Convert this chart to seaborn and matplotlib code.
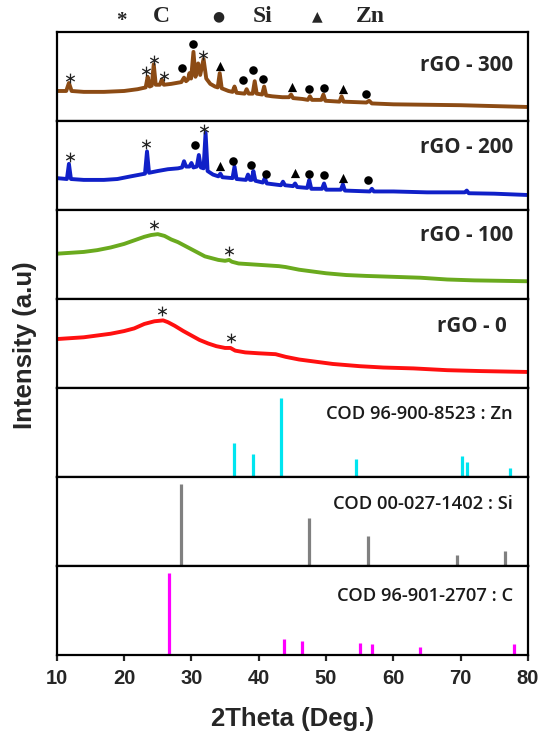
import numpy as np
import pandas as pd
import matplotlib
matplotlib.use("Agg")
import matplotlib.pyplot as plt
import seaborn as sns

# ---------------- data ----------------
# rGO - 300 (brown)
x300 = [10.0, 11.4, 11.8, 12.2, 14.0, 17.0, 20.0, 22.0, 23.2, 23.5, 23.8, 24.1, 24.4, 24.7,
        25.3, 25.6, 25.9, 27.0, 28.5, 28.9, 29.2, 29.5, 29.7, 29.95, 30.3, 30.6, 31.0, 31.3,
        31.8, 32.2, 32.8, 33.5, 33.9, 34.2, 34.5, 35.5, 36.1, 36.4, 36.7, 37.9, 38.2, 38.5,
        39.1, 39.4, 39.7, 40.5, 40.8, 41.1, 42.0, 43.5, 44.5, 44.8, 45.1, 46.5, 47.3, 47.6,
        47.9, 49.3, 49.6, 49.9, 52.0, 52.3, 52.6, 56.0, 56.4, 56.8, 60.0, 65.0, 70.0, 75.0, 80.0]
y300 = [0.34, 0.34, 0.43, 0.34, 0.33, 0.33, 0.34, 0.36, 0.38, 0.50, 0.39, 0.40, 0.64, 0.41,
        0.41, 0.47, 0.41, 0.42, 0.44, 0.49, 0.45, 0.47, 0.54, 0.48, 0.78, 0.50, 0.65, 0.52,
        0.70, 0.48, 0.42, 0.39, 0.38, 0.54, 0.37, 0.34, 0.33, 0.39, 0.32, 0.31, 0.36, 0.31,
        0.31, 0.45, 0.31, 0.30, 0.39, 0.29, 0.28, 0.27, 0.27, 0.30, 0.26, 0.25, 0.24, 0.28,
        0.24, 0.24, 0.30, 0.23, 0.22, 0.28, 0.22, 0.21, 0.23, 0.20, 0.19, 0.185, 0.18, 0.17, 0.16]

# rGO - 200 (blue)
x200 = [10.0, 11.5, 11.8, 12.1, 14.0, 17.0, 19.0, 21.0, 23.1, 23.4, 23.7, 25.0, 26.5, 28.0,
        28.6, 28.9, 29.2, 29.7, 30.0, 30.3, 30.8, 31.1, 31.4, 31.8, 32.1, 32.4, 33.2, 34.0,
        34.3, 34.6, 36.1, 36.4, 36.7, 38.1, 38.4, 38.7, 38.95, 39.2, 39.5, 40.6, 40.9, 41.2,
        43.3, 43.6, 43.9, 45.1, 45.4, 45.7, 47.2, 47.5, 47.8, 49.4, 49.7, 50.0, 52.2, 52.5,
        52.8, 56.5, 56.8, 57.1, 60.0, 65.0, 70.6, 70.9, 71.2, 75.0, 80.0]
y200 = [0.36, 0.35, 0.52, 0.35, 0.34, 0.34, 0.35, 0.38, 0.41, 0.66, 0.42, 0.44, 0.46, 0.47,
        0.48, 0.55, 0.49, 0.49, 0.53, 0.48, 0.49, 0.62, 0.48, 0.47, 0.87, 0.44, 0.40, 0.38,
        0.41, 0.37, 0.36, 0.49, 0.35, 0.34, 0.40, 0.34, 0.34, 0.44, 0.33, 0.31, 0.36, 0.30,
        0.28, 0.32, 0.28, 0.27, 0.30, 0.26, 0.25, 0.34, 0.24, 0.24, 0.30, 0.23, 0.23, 0.29,
        0.22, 0.21, 0.24, 0.21, 0.21, 0.20, 0.20, 0.22, 0.19, 0.185, 0.17]

# rGO - 100 (green)
x100 = [10, 12, 14, 16, 18, 20, 21.5, 23, 24, 25, 26, 27, 28, 29, 30, 31, 32, 33, 34, 35,
        35.6, 36, 37, 39, 41, 43, 44, 46, 48, 50, 53, 56, 60, 64, 68, 72, 76, 80]
y100 = [0.51, 0.52, 0.53, 0.55, 0.58, 0.62, 0.66, 0.70, 0.72, 0.73, 0.71, 0.67, 0.64, 0.60,
        0.56, 0.52, 0.48, 0.46, 0.44, 0.43, 0.44, 0.42, 0.40, 0.39, 0.38, 0.37, 0.36, 0.33,
        0.31, 0.29, 0.27, 0.26, 0.25, 0.24, 0.22, 0.21, 0.205, 0.20]

# rGO - 0 (red)
x0 = [10, 12, 14, 16, 18, 20, 21.5, 23, 24.5, 25.8, 26.5, 27.5, 28.8, 30, 31.2, 32.5, 33.7,
      35, 35.8, 36.5, 38, 40, 42.5, 44, 46, 48, 51, 55, 58.5, 63, 68, 73, 80]
y0 = [0.55, 0.56, 0.57, 0.59, 0.61, 0.64, 0.67, 0.72, 0.75, 0.76, 0.74, 0.70, 0.64, 0.59,
      0.54, 0.50, 0.47, 0.45, 0.45, 0.42, 0.40, 0.39, 0.38, 0.35, 0.32, 0.30, 0.27, 0.245,
      0.23, 0.22, 0.20, 0.19, 0.18]

# reference patterns
zn_pos = [36.35, 39.1, 43.35, 54.5, 70.25, 70.9, 77.3]
zn_int = [0.38, 0.26, 0.89, 0.20, 0.23, 0.17, 0.10]
si_pos = [28.5, 47.4, 56.25, 69.4, 76.6]
si_int = [0.92, 0.54, 0.33, 0.12, 0.17]
c_pos = [26.65, 43.7, 46.4, 55.0, 56.8, 63.9, 77.9]
c_int = [0.92, 0.18, 0.15, 0.13, 0.12, 0.085, 0.12]

# peak annotations: (symbol, 2theta, height)
marks300 = [("*", 11.9, 0.49), ("*", 23.2, 0.56), ("*", 24.5, 0.69), ("*", 25.9, 0.51),
            ("o", 28.6, 0.60), ("o", 30.3, 0.87), ("*", 31.7, 0.75), ("^", 34.3, 0.62),
            ("o", 37.7, 0.46), ("o", 39.1, 0.58), ("o", 40.7, 0.48), ("^", 44.9, 0.39),
            ("o", 47.4, 0.36), ("o", 49.7, 0.37), ("^", 52.5, 0.36), ("o", 56.0, 0.31)]
marks200 = [("*", 11.9, 0.60), ("*", 23.3, 0.74), ("o", 30.5, 0.73), ("*", 31.9, 0.91),
            ("^", 34.2, 0.50), ("o", 36.2, 0.55), ("o", 38.8, 0.51), ("o", 41.1, 0.41),
            ("^", 45.4, 0.42), ("o", 47.5, 0.41), ("o", 49.7, 0.39), ("^", 52.5, 0.36),
            ("o", 56.2, 0.34)]
marks100 = [("*", 24.5, 0.83), ("*", 35.6, 0.54)]
marks0 = [("*", 25.7, 0.87), ("*", 35.9, 0.56)]

sample_names = ["rGO - 300", "rGO - 200", "rGO - 100", "rGO - 0"]
ref_names = ["COD 96-900-8523 : Zn", "COD 00-027-1402 : Si", "COD 96-901-2707 : C"]
legend_syms = ["*", "\u25CF", "\u25B2"]
legend_names = ["C", "Si", "Zn"]
xticks = [10, 20, 30, 40, 50, 60, 70, 80]

# ---------------- style ----------------
sns.set_style("ticks")
plt.rcParams["font.family"] = ["Liberation Sans", "DejaVu Sans"]

fig = plt.figure(figsize=(5.41, 7.34), dpi=100)
axes = fig.subplots(7, 1, sharex=True, gridspec_kw=dict(hspace=0))
fig.subplots_adjust(left=0.105, right=0.976, top=0.956, bottom=0.108)

curves = [(x300, y300, "#8C4B14", marks300, 0.63),
          (x200, y200, "#1020C8", marks200, 0.71),
          (x100, y100, "#6AAA1E", marks100, 0.72),
          (x0, y0, "#FF1010", marks0, 0.69)]

label_font = dict(family=["Open Sans", "DejaVu Sans"], fontweight="bold", fontsize=14.8)
for i, (xs, ys, col, marks, ly) in enumerate(curves):
    ax = axes[i]
    df = pd.DataFrame({"x": xs, "y": ys})
    sns.lineplot(data=df, x="x", y="y", ax=ax, color=col, lw=2.8,
                 estimator=None, sort=False, legend=False)
    for sym, mx, my in marks:
        if sym == "*":
            ax.scatter([mx], [my], marker=r"$\ast$", s=50, color="#222222", lw=0, zorder=5)
        elif sym == "o":
            ax.scatter([mx], [my], marker="o", s=38, color="black", lw=0, zorder=5)
        else:
            ax.scatter([mx], [my], marker="^", s=44, color="black", lw=0, zorder=5)
    xr = 0.955 if i == 3 else 0.968
    ax.text(xr, ly, sample_names[i], transform=ax.transAxes, ha="right", va="center",
            **label_font)

refs = [(zn_pos, zn_int, "#00E5F0", 0.71),
        (si_pos, si_int, "#808080", 0.70),
        (c_pos, c_int, "#FF00FF", 0.66)]
for j, (pos, inten, col, ly) in enumerate(refs):
    ax = axes[4 + j]
    ax.vlines(pos, 0, inten, color=col, lw=2.3)
    ax.text(0.968, ly, ref_names[j], transform=ax.transAxes, ha="right", va="center",
            family=["Open Sans", "DejaVu Sans"], fontsize=13.2, fontweight="semibold",
            color="#1a1a1a")

for k, ax in enumerate(axes):
    ax.set_xlim(10, 80)
    ax.set_ylim(0, 1)
    ax.set_ylabel("")
    ax.set_xlabel("")
    ax.set_yticks([])
    for s in ax.spines.values():
        s.set_linewidth(1.6)
        s.set_color("black")
    if k < 6:
        ax.tick_params(bottom=False, labelbottom=False)

axb = axes[-1]
axb.set_xticks(xticks)
axb.set_xticklabels([str(t) for t in xticks], fontsize=14.5, fontweight="bold")
axb.tick_params(axis="x", direction="out", length=4, width=1.6, pad=6, bottom=True)
axb.set_xlabel("2Theta (Deg.)", fontsize=18.5, fontweight="bold", labelpad=14)

fig.text(0.046, 0.53, "Intensity (a.u)", rotation=90, ha="center", va="center",
         fontsize=18.5, fontweight="bold")

# top legend
serif = dict(family=["Liberation Serif", "DejaVu Serif"], fontweight="bold", fontsize=17)
sym_x = [0.225, 0.403, 0.586]
name_x = [0.299, 0.486, 0.684]
for sx, nx, sym, nm in zip(sym_x, name_x, legend_syms, legend_names):
    if sym == "*":
        fig.text(sx, 0.972, sym, ha="center", va="center", fontsize=15, fontweight="bold",
                 family=["Liberation Serif", "DejaVu Sans"])
    else:
        fig.text(sx, 0.978, sym, ha="center", va="center", fontsize=10,
                 family=["DejaVu Sans"])
    fig.text(nx, 0.978, nm, ha="center", va="center", **serif)

fig.savefig("out.png", dpi=100)
